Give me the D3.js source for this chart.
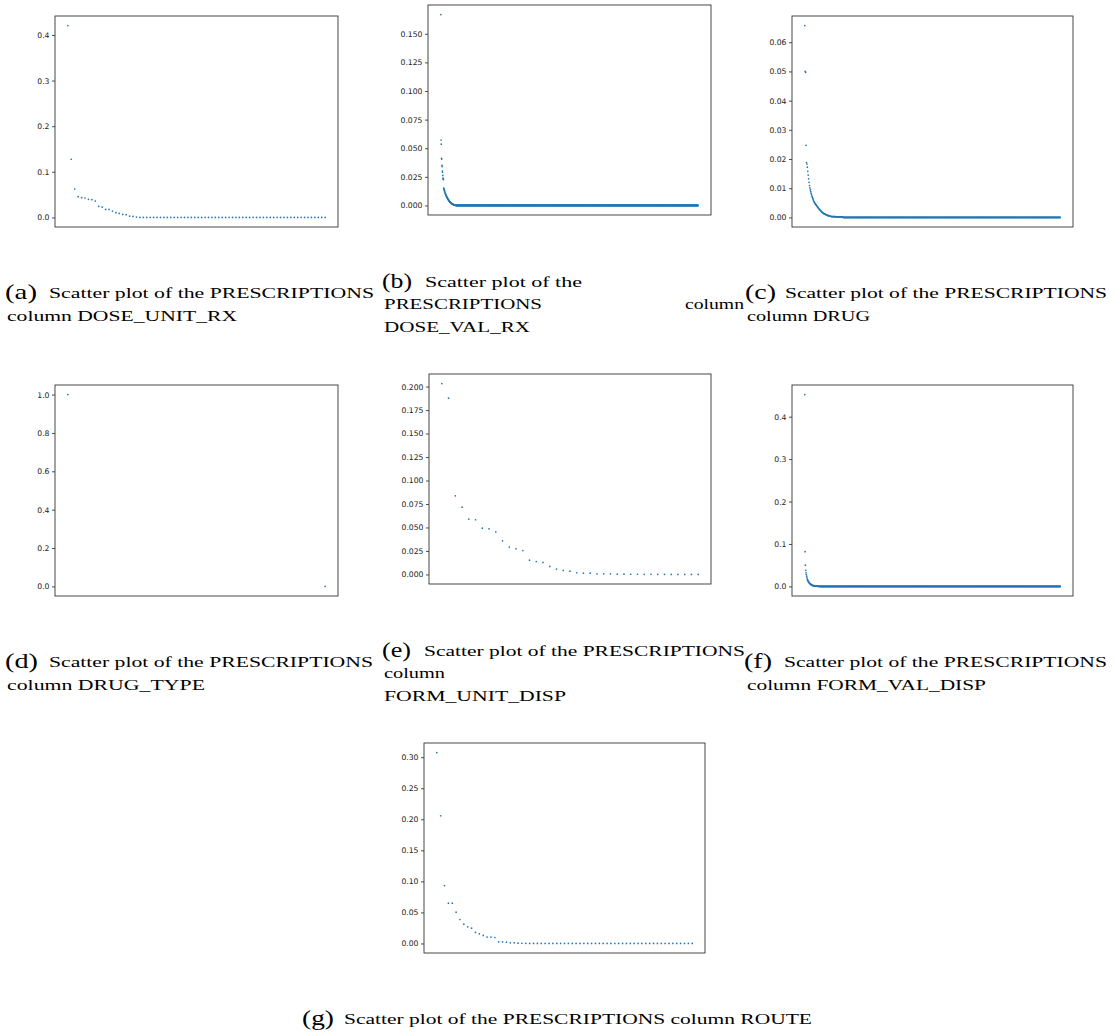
<!DOCTYPE html>
<html>
<head>
<meta charset="utf-8">
<script src="https://cdn.jsdelivr.net/npm/d3@7"></script>
<style>
html,body{margin:0;padding:0;background:#fff;}
svg{display:block;}
</style>
</head>
<body>
<svg id="chart" width="1116" height="1034"></svg>
<script>
// ---------------- DATA ----------------
// (a) DOSE_UNIT_RX : 76 points
const aHead = [0.4205, 0.1275, 0.0623, 0.0454, 0.0432, 0.0425, 0.0396, 0.0388, 0.0359, 0.0242,
               0.0227, 0.0176, 0.0176, 0.0139, 0.0103, 0.0088, 0.0066, 0.0059, 0.0029, 0.0022, 0.0007];
const aZeroCount = 55;
const aTicks = [0.0, 0.1, 0.2, 0.3, 0.4];

// (b) DOSE_VAL_RX : 1200 points
const bHead = [0.1668, 0.0572, 0.0535, 0.0412, 0.0405, 0.0351, 0.0340, 0.0300, 0.0290, 0.0262,
               0.0238, 0.0232, 0.0226, 0.0152, 0.0146, 0.0140, 0.0133, 0.0127, 0.0121, 0.0115,
               0.0109, 0.0104, 0.0099, 0.0094, 0.0089, 0.0085, 0.0081, 0.0077, 0.0073, 0.0069,
               0.0065, 0.0062, 0.0059, 0.0056, 0.0053, 0.0050, 0.0047, 0.0044, 0.0041, 0.0039,
               0.0037, 0.0034, 0.0032, 0.0030, 0.0028, 0.0026, 0.0024, 0.0022, 0.0020, 0.0019,
               0.0017, 0.0016, 0.0014, 0.0013, 0.0012, 0.0011, 0.0010, 0.0009, 0.0008, 0.0007,
               0.0006, 0.0005, 0.0005, 0.0004, 0.0003, 0.0003, 0.0002, 0.0002, 0.0001, 0.0001];
const bZeroCount = 1130;
const bTicks = [0.000, 0.025, 0.050, 0.075, 0.100, 0.125, 0.150];

// (c) DRUG : 600 points
const cHead = [0.0657, 0.0500, 0.0497, 0.0247, 0.0188, 0.0183,
               0.0172, 0.0158, 0.0145, 0.0132, 0.0120, 0.0109,
               0.0101, 0.0094, 0.0088, 0.0082, 0.0077, 0.0072, 0.0068, 0.0064, 0.0060, 0.0056, 0.0053, 0.0050,
               0.0048, 0.0046, 0.0044, 0.0042, 0.0040, 0.0038, 0.0036, 0.0034, 0.0032, 0.0030,
               0.0028, 0.0027, 0.0025, 0.0023, 0.0022, 0.0020, 0.0019, 0.0017, 0.0016,
               0.0015, 0.0014, 0.0013, 0.0012, 0.0011, 0.0011, 0.0010, 0.0009, 0.0009, 0.0008,
               0.0007, 0.0007, 0.0006, 0.0006, 0.0005, 0.0005,
               0.0004, 0.0004, 0.0004, 0.0003, 0.0003, 0.0003, 0.0003, 0.0003, 0.0003, 0.0003,
               0.0003, 0.0003, 0.0003, 0.0002, 0.0002, 0.0002, 0.0002, 0.0002, 0.0002, 0.0002,
               0.0002, 0.0002, 0.0002, 0.0002, 0.0002, 0.0002, 0.0002, 0.0002, 0.0002, 0.0002, 0.0002];
const cZeroCount = 510;
const cTicks = [0.00, 0.01, 0.02, 0.03, 0.04, 0.05, 0.06];

// (d) DRUG_TYPE : 2 points
const dValues = [1.0, 0.0];
const dTicks = [0.0, 0.2, 0.4, 0.6, 0.8, 1.0];

// (e) FORM_UNIT_DISP : 39 points
const eValues = [0.2032, 0.1876, 0.0837, 0.0716, 0.0589, 0.0582, 0.0493, 0.0486, 0.0454, 0.0358,
                 0.0291, 0.0273, 0.0255, 0.0152, 0.0138, 0.0128, 0.0085, 0.0057, 0.0043, 0.0035,
                 0.0018, 0.0014, 0.0014, 0.0007, 0.0007, 0.0007, 0.0003, 0.0003, 0.0002, 0.0002,
                 0.0001, 0.0001, 0.0001, 0.0001, 0.0, 0.0, 0.0, 0.0, 0.0];
const eTicks = [0.000, 0.025, 0.050, 0.075, 0.100, 0.125, 0.150, 0.175, 0.200];

// (f) FORM_VAL_DISP : 800 points
const fHead = [0.4520, 0.0818, 0.0500, 0.0378, 0.0320, 0.0280, 0.0240, 0.0200, 0.0165, 0.0148,
               0.0132, 0.0118, 0.0105, 0.0094, 0.0084, 0.0075, 0.0067, 0.0060, 0.0053, 0.0047,
               0.0042, 0.0037, 0.0033, 0.0029, 0.0026, 0.0023, 0.0020, 0.0018, 0.0016, 0.0014,
               0.0012, 0.0011, 0.0010, 0.0009, 0.0008, 0.0007, 0.0006, 0.0005, 0.0004, 0.0004,
               0.0003, 0.0003, 0.0002, 0.0002, 0.0002, 0.0001, 0.0001];
const fZeroCount = 753;
const fTicks = [0.0, 0.1, 0.2, 0.3, 0.4];

// (g) ROUTE : 67 points
const gHead = [0.3075, 0.2057, 0.0932, 0.0648, 0.0648, 0.0504, 0.0386, 0.0311, 0.0268, 0.0246,
               0.0177, 0.0155, 0.0129, 0.0102, 0.0102, 0.0096, 0.0027, 0.0027, 0.0021, 0.0010,
               0.0010, 0.0005, 0.0003, 0.0002, 0.0001];
const gZeroCount = 42;
const gTicks = [0.00, 0.05, 0.10, 0.15, 0.20, 0.25, 0.30];

// captions
const capLetters = ["(a)", "(b)", "(c)", "(d)", "(e)", "(f)", "(g)"];
const capA = ["Scatter plot of the PRESCRIPTIONS", "column DOSE_UNIT_RX"];
const capB = ["Scatter plot of the", "PRESCRIPTIONS", "DOSE_VAL_RX"];
const capC = ["column", "Scatter plot of the PRESCRIPTIONS", "column DRUG"];
const capD = ["Scatter plot of the PRESCRIPTIONS", "column DRUG_TYPE"];
const capE = ["Scatter plot of the PRESCRIPTIONS", "column", "FORM_UNIT_DISP"];
const capF = ["Scatter plot of the PRESCRIPTIONS", "column FORM_VAL_DISP"];
const capG = ["Scatter plot of the PRESCRIPTIONS column ROUTE"];

// ---------------- DRAWING ----------------
const withZeros = (head, n) => head.concat(new Array(n).fill(0));
const svg = d3.select("#chart");
const dotColor = "#1f77b4";

function drawPanel(values, ticks, fmt, box) {
  const n = values.length;
  const xPad = (n - 1) * 0.05;
  const x = d3.scaleLinear().domain([-xPad, (n - 1) + xPad]).range([box.l, box.r]);
  const ymin = d3.min(values), ymax = d3.max(values);
  const yPad = (ymax - ymin) * 0.05;
  const y = d3.scaleLinear().domain([ymin - yPad, ymax + yPad]).range([box.b, box.t]);
  const g = svg.append("g");
  g.append("g").selectAll("circle").data(values).join("circle")
    .attr("cx", (d, i) => x(i)).attr("cy", d => y(d))
    .attr("r", 0.85).attr("fill", dotColor);
  const ax = g.append("g").attr("transform", `translate(${box.l},0)`)
    .call(d3.axisLeft(y).tickValues(ticks).tickFormat(d3.format(fmt)).tickSize(3).tickPadding(2.5));
  ax.select(".domain").remove();
  ax.selectAll(".tick line").attr("stroke", "#222").attr("stroke-width", 0.8);
  ax.selectAll(".tick text").attr("fill", "#222")
    .style("font-family", "DejaVu Sans").style("font-size", "7.7px");
  g.append("rect").attr("x", box.l).attr("y", box.t)
    .attr("width", box.r - box.l).attr("height", box.b - box.t)
    .attr("fill", "none").attr("stroke", "#333").attr("stroke-width", 0.9);
}

drawPanel(withZeros(aHead, aZeroCount), aTicks, ".1f", {l: 55, t: 16, r: 338, b: 227});
drawPanel(withZeros(bHead, bZeroCount), bTicks, ".3f", {l: 428, t: 5, r: 711, b: 215});
drawPanel(withZeros(cHead, cZeroCount), cTicks, ".2f", {l: 792, t: 16, r: 1073, b: 227});
drawPanel(dValues, dTicks, ".1f", {l: 55, t: 385, r: 338, b: 596});
drawPanel(eValues, eTicks, ".3f", {l: 429, t: 374, r: 711, b: 584});
drawPanel(withZeros(fHead, fZeroCount), fTicks, ".1f", {l: 792, t: 385, r: 1073, b: 596});
drawPanel(withZeros(gHead, gZeroCount), gTicks, ".2f", {l: 424, t: 743, r: 705, b: 953});

function cap(text, x, y, w, size) {
  svg.append("text").attr("x", x).attr("y", y)
    .attr("textLength", w).attr("lengthAdjust", "spacingAndGlyphs")
    .style("font-family", "Liberation Serif, serif").style("font-size", size + "px")
    .attr("fill", "#000").text(text);
}
const L = 21, S = 14;
// row 1
cap(capLetters[0], 5, 299, 32, L);
cap(capA[0], 49, 298, 325, S);
cap(capA[1], 7, 321, 230, S);
cap(capLetters[1], 382, 288, 30, L);
cap(capB[0], 425, 287, 157, S);
cap(capB[1], 384, 309, 158, S);
cap(capB[2], 384, 332, 146, S);
cap(capC[0], 685, 309, 59, S);
cap(capLetters[2], 745, 299, 31, L);
cap(capC[1], 785, 298, 322, S);
cap(capC[2], 747, 321, 123, S);
// row 2
cap(capLetters[3], 5, 668, 33, L);
cap(capD[0], 49, 667, 324, S);
cap(capD[1], 7, 690, 198, S);
cap(capLetters[4], 382, 657, 29, L);
cap(capE[0], 424, 656, 321, S);
cap(capE[1], 384, 678, 61, S);
cap(capE[2], 384, 701, 182, S);
cap(capLetters[5], 744, 668, 28, L);
cap(capF[0], 784, 667, 323, S);
cap(capF[1], 747, 690, 239, S);
// row 3
cap(capLetters[6], 302, 1025, 32, L);
cap(capG[0], 344, 1024, 468, 15);
</script>
</body>
</html>
